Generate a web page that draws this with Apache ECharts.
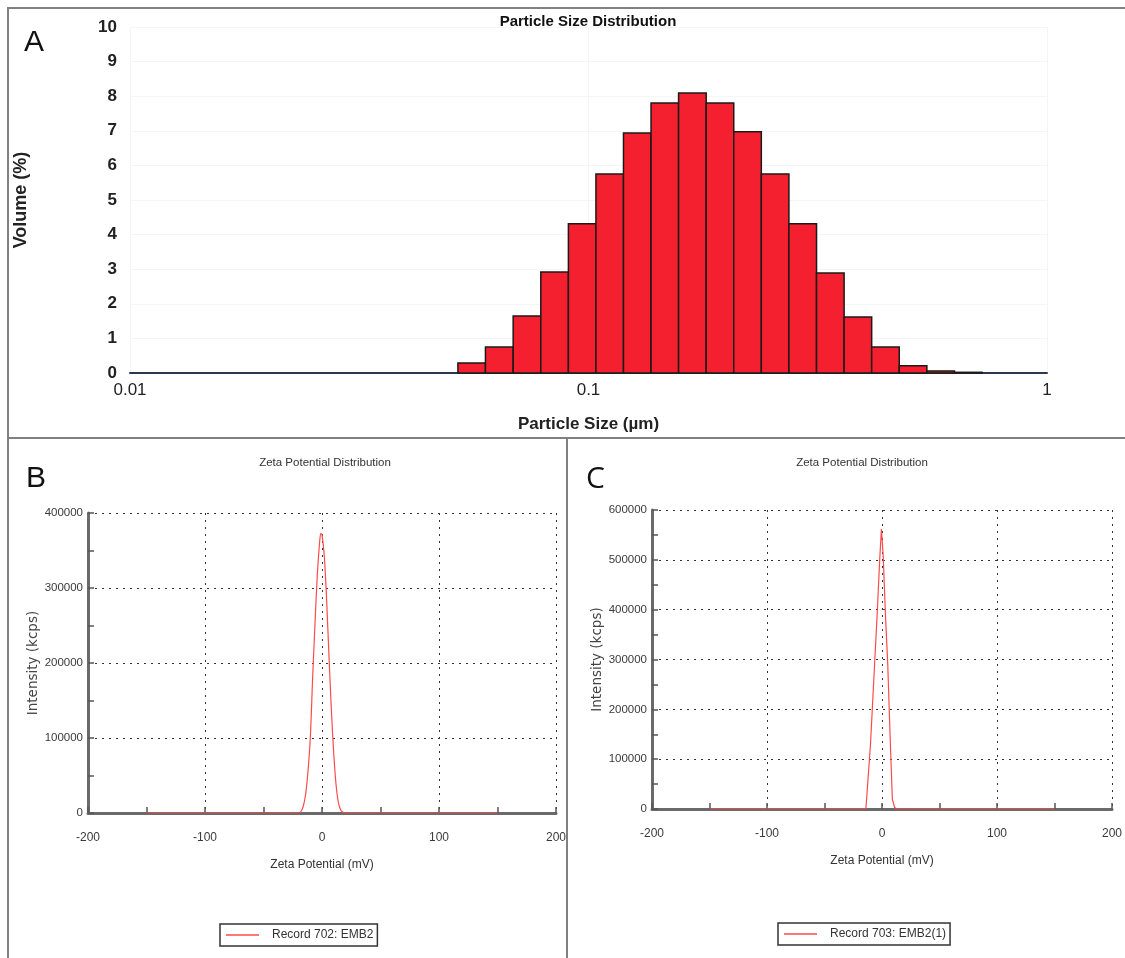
<!DOCTYPE html>
<html>
<head>
<meta charset="utf-8">
<script src="https://cdn.jsdelivr.net/npm/echarts@6/dist/echarts.min.js"></script>
<style>html,body{margin:0;padding:0;background:#fff}#c{width:1125px;height:958px}</style>
</head>
<body>
<div id="c"></div>
<script>
// Panel A: particle size histogram (bin edges in µm, volume %)
const binEdges = [0.0519, 0.0596, 0.0685, 0.0787, 0.0904, 0.1038, 0.1192, 0.1369, 0.1572, 0.1806, 0.2074, 0.2382, 0.2736, 0.3143, 0.3610, 0.4146, 0.4762, 0.5470, 0.6283, 0.7216];
const volumePct = [0.29, 0.75, 1.65, 2.92, 4.31, 5.75, 6.94, 7.80, 8.09, 7.80, 6.97, 5.75, 4.31, 2.89, 1.62, 0.75, 0.21, 0.06, 0.02];
const sizeTicks = [0.01, 0.1, 1];

// Panel B: zeta potential (mV) vs intensity (kcps)
const zetaB = [-150, -20, -18, -16, -14, -12, -10, -8, -6, -4, -2, -1, 0, 2, 4, 6, 8, 10, 12, 14, 16, 18, 20, 150];
const intensityB = [0, 0, 2000, 9000, 25000, 55000, 100000, 180000, 252000, 318000, 362000, 373000, 371000, 342000, 282000, 208000, 138000, 80000, 38000, 14000, 4000, 1000, 0, 0];
const legendB = 'Record 702: EMB2';

// Panel C
const zetaC = [-150, -14, -13, -10, -7, -4, -2, -0.5, 1, 3, 5, 7, 9, 11, 13, 150];
const intensityC = [0, 0, 2000, 130000, 265000, 400000, 500000, 562000, 510000, 390000, 290000, 150000, 20000, 3000, 0, 0];
const legendC = 'Record 703: EMB2(1)';

const small = '"Liberation Sans", Arial, sans-serif';
const chart = echarts.init(document.getElementById('c'));

const histData = volumePct.map((v, i) => [binEdges[i], binEdges[i + 1], v]);

function zetaX(idx) {
  return {
    type: 'value', gridIndex: idx, min: -200, max: 200, interval: 100,
    name: 'Zeta Potential (mV)', nameLocation: 'middle', nameGap: 46,
    nameTextStyle: { fontFamily: small, fontSize: 12, color: '#333' },
    axisLine: { onZero: false, lineStyle: { color: '#6a6a6a', width: 3 } },
    axisTick: { show: true, inside: true, length: 6, lineStyle: { color: '#555', width: 1.5 } },
    minorTick: { show: true, splitNumber: 2, length: 6, lineStyle: { color: '#555', width: 1.5 } },
    axisLabel: { fontFamily: small, fontSize: 12, color: '#3a3a3a', margin: 19, formatter: v => String(v) },
    splitLine: { show: true, lineStyle: { color: '#333', type: [2, 5], width: 1 } }
  };
}
function zetaY(idx, max) {
  return {
    type: 'value', gridIndex: idx, min: 0, max: max, interval: 100000,
    name: 'Intensity (kcps)', nameLocation: 'middle', nameGap: 39,
    nameTextStyle: { fontFamily: 'DejaVu Sans', fontSize: 13.5, color: '#444' },
    axisLine: { show: true, onZero: false, lineStyle: { color: '#6a6a6a', width: 3 } },
    axisTick: { show: true, inside: true, length: 6, lineStyle: { color: '#555', width: 1.5 } },
    minorTick: { show: true, splitNumber: 2, length: 6, lineStyle: { color: '#555', width: 1.5 } },
    axisLabel: { fontFamily: small, fontSize: 11.5, color: '#3a3a3a', margin: 5, formatter: v => String(v) },
    splitLine: { show: true, lineStyle: { color: '#333', type: [2, 5], width: 1 } }
  };
}

chart.setOption({
  animation: false,
  backgroundColor: '#fff',
  title: [
    { text: 'Particle Size Distribution', left: 583, top: 9, textAlign: 'center',
      textStyle: { fontFamily: 'Liberation Sans', fontWeight: 'bold', fontSize: 15, color: '#111' } },
    { text: 'Zeta Potential Distribution', left: 320, top: 452, textAlign: 'center',
      textStyle: { fontFamily: small, fontWeight: 'normal', fontSize: 11.5, color: '#333' } },
    { text: 'Zeta Potential Distribution', left: 857, top: 452, textAlign: 'center',
      textStyle: { fontFamily: small, fontWeight: 'normal', fontSize: 11.5, color: '#333' } }
  ],
  legend: [
    { data: [legendB], left: 220, top: 924, orient: 'horizontal', padding: [5, 4, 5, 6],
      borderColor: '#333', borderWidth: 1.5, borderRadius: 0, icon: 'rect', itemWidth: 33, itemHeight: 1.5,
      textStyle: { fontFamily: small, fontSize: 12, color: '#333', padding: [0, 0, 0, 8] } },
    { data: [legendC], left: 778, top: 923, orient: 'horizontal', padding: [5, 4, 5, 6],
      borderColor: '#333', borderWidth: 1.5, borderRadius: 0, icon: 'rect', itemWidth: 33, itemHeight: 1.5,
      textStyle: { fontFamily: small, fontSize: 12, color: '#333', padding: [0, 0, 0, 8] } }
  ],
  grid: [
    { left: 130, right: 78, top: 27, bottom: 585 },
    { left: 88, right: 569, top: 513, bottom: 145 },
    { left: 652, right: 11, top: 510, bottom: 149 }
  ],
  xAxis: [
    { type: 'log', gridIndex: 0, min: sizeTicks[0], max: sizeTicks[sizeTicks.length - 1], logBase: 10,
      name: 'Particle Size (µm)', nameLocation: 'middle', nameGap: 43,
      nameTextStyle: { fontFamily: 'Liberation Sans', fontWeight: 'bold', fontSize: 17, color: '#222' },
      axisLine: { lineStyle: { color: '#2c3850', width: 2 } },
      axisTick: { show: false }, minorTick: { show: false },
      axisLabel: { fontFamily: 'Liberation Sans', fontSize: 17, color: '#222', margin: 9,
        formatter: v => String(v) },
      splitLine: { show: true, lineStyle: { color: '#f5f5f5' } } },
    zetaX(1), zetaX(2)
  ],
  yAxis: [
    { type: 'value', gridIndex: 0, min: 0, max: 10, interval: 1,
      name: 'Volume (%)', nameLocation: 'middle', nameGap: 100,
      nameTextStyle: { fontFamily: 'Liberation Sans', fontWeight: 'bold', fontSize: 18, color: '#222' },
      axisLine: { show: false }, axisTick: { show: false },
      axisLabel: { fontFamily: 'Liberation Sans', fontWeight: 'bold', fontSize: 17, color: '#222', margin: 13 },
      splitLine: { show: true, lineStyle: { color: '#f5f5f5' } } },
    zetaY(1, 400000), zetaY(2, 600000)
  ],
  series: [
    { type: 'custom', xAxisIndex: 0, yAxisIndex: 0, encode: { x: [0, 1], y: 2 },
      data: histData,
      renderItem: function (params, api) {
        const p1 = api.coord([api.value(0), api.value(2)]);
        const p2 = api.coord([api.value(1), 0]);
        return { type: 'rect', shape: { x: p1[0], y: p1[1], width: p2[0] - p1[0], height: p2[1] - p1[1] },
          style: { fill: '#f4202f', stroke: '#1a1a1a', lineWidth: 1.5 } };
      } },
    { type: 'line', name: legendB, xAxisIndex: 1, yAxisIndex: 1, showSymbol: false, smooth: 0.3,
      data: zetaB.map((x, i) => [x, intensityB[i]]),
      lineStyle: { color: '#ff4a4a', width: 1.2 }, itemStyle: { color: '#ff4a4a' } },
    { type: 'line', name: legendC, xAxisIndex: 2, yAxisIndex: 2, showSymbol: false, smooth: false,
      data: zetaC.map((x, i) => [x, intensityC[i]]),
      lineStyle: { color: '#ff4a4a', width: 1.2 }, itemStyle: { color: '#ff4a4a' } }
  ],
  graphic: [
    { type: 'rect', shape: { x: 8, y: 8, width: 1130, height: 430 }, style: { fill: 'none', stroke: '#808080', lineWidth: 2 } },
    { type: 'line', shape: { x1: 8, y1: 438, x2: 8, y2: 960 }, style: { stroke: '#808080', lineWidth: 2 } },
    { type: 'line', shape: { x1: 567, y1: 438, x2: 567, y2: 960 }, style: { stroke: '#808080', lineWidth: 2 } },
    { type: 'text', left: 24, top: 28, style: { text: 'A', font: '30px "Liberation Sans"', fill: '#111' } },
    { type: 'text', left: 26, top: 464, style: { text: 'B', font: '30px "Liberation Sans"', fill: '#111' } },
    { type: 'text', left: 586, top: 464, style: { text: 'C', font: '30px "Open Sans"', fill: '#111' } }
  ]
});
</script>
</body>
</html>
